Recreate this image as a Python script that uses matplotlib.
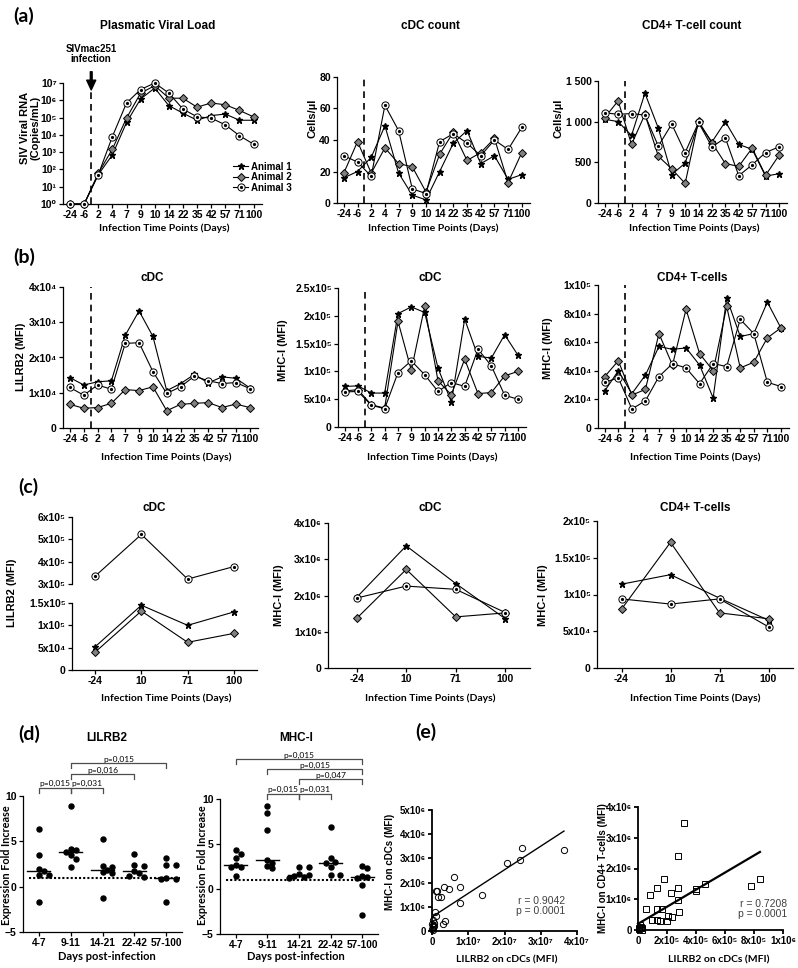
import numpy as np
import matplotlib
matplotlib.use('Agg')
import matplotlib.pyplot as plt
from matplotlib.ticker import NullLocator

plt.rcParams['font.family'] = ['Liberation Sans', 'DejaVu Sans']
plt.rcParams['font.weight'] = 'bold'
CAL = ['Lato', 'DejaVu Sans']  # closest thing to Calibri

W, H = 798, 968

# ---------------- data ----------------
days = ['-24', '-6', '2', '4', '7', '9', '10', '14', '22', '35', '42', '57', '71', '100']
animals = ['Animal 1', 'Animal 2', 'Animal 3']

# (a) plasma viral load (copies/mL)
vl_1 = [1, 1, 50, 700, 5.2e4, 1.2e6, 5.1e6, 4.9e5, 1.8e5, 7e4, 1.3e5, 1.6e5, 7e4, 7e4]
vl_2 = [1, 1, 60, 1.5e3, 9.3e4, 2.6e6, 7e6, 1.35e6, 1.3e6, 4e5, 7e5, 5.5e5, 2.6e5, 1.1e5]
vl_3 = [1, 1, 50, 8e3, 7e5, 4.2e6, 1e7, 2.6e6, 3.1e5, 1.1e5, 9.3e4, 3.8e4, 9e3, 2.9e3]
# (a) cDC count (cells/ul)
cdc_1 = [16, 20, 29, 49, 19, 5, 2, 20, 38, 46, 25, 30, 15, 18]
cdc_2 = [19, 39, 19, 35, 25, 23, 7, 31, 45, 27, 32, 41, 13, 32]
cdc_3 = [30, 26, 17, 62, 46, 9, 6, 39, 44, 38, 30, 40, 34, 48]
# (a) CD4+ T-cell count (cells/ul)
cd4_1 = [1030, 1000, 830, 1350, 920, 350, 490, 985, 750, 1000, 720, 660, 330, 360]
cd4_2 = [1050, 1255, 720, 1090, 575, 420, 240, 1005, 740, 485, 450, 675, 340, 585]
cd4_3 = [1110, 1090, 1100, 1080, 700, 970, 620, 990, 690, 800, 335, 470, 620, 690]
# (b) LILRB2 on cDC (MFI)
lil_1 = [1.43e4, 1.22e4, 1.31e4, 1.34e4, 2.63e4, 3.32e4, 2.6e4, 1.06e4, 1.26e4, 1.52e4, 1.28e4, 1.45e4, 1.41e4, 1.14e4]
lil_2 = [6.7e3, 5.6e3, 5.8e3, 7.0e3, 1.09e4, 1.06e4, 1.17e4, 4.9e3, 6.7e3, 7.0e3, 7.2e3, 5.8e3, 6.8e3, 5.8e3]
lil_3 = [1.15e4, 9.3e3, 1.22e4, 1.1e4, 2.4e4, 2.42e4, 1.6e4, 9.8e3, 1.17e4, 1.47e4, 1.34e4, 1.26e4, 1.29e4, 1.12e4]
# (b) MHC-I on cDC (MFI)
mhc_1 = [7.3e4, 7.4e4, 6.1e4, 6.1e4, 2.04e5, 2.16e5, 2.06e5, 1.06e5, 4.5e4, 1.94e5, 1.27e5, 1.24e5, 1.66e5, 1.29e5]
mhc_2 = [6.5e4, 6.7e4, 4.0e4, 3.4e4, 1.9e5, 1.02e5, 2.17e5, 8.3e4, 5.8e4, 1.22e5, 6.0e4, 6.2e4, 9.2e4, 1.0e5]
mhc_3 = [6.3e4, 6.4e4, 3.9e4, 3.3e4, 9.8e4, 1.19e5, 9.4e4, 6.4e4, 8.0e4, 7.3e4, 1.4e5, 1.1e5, 5.7e4, 5.0e4]
# (b) MHC-I on CD4+ T-cells (MFI)
mht_1 = [2.6e4, 4.0e4, 2.4e4, 3.7e4, 5.7e4, 5.5e4, 5.6e4, 4.4e4, 2.1e4, 9.1e4, 6.4e4, 6.6e4, 8.8e4, 7.0e4]
mht_2 = [3.6e4, 4.7e4, 2.3e4, 2.7e4, 6.6e4, 4.4e4, 8.3e4, 5.2e4, 4.0e4, 8.5e4, 4.2e4, 4.6e4, 6.3e4, 7.0e4]
mht_3 = [3.2e4, 3.5e4, 1.33e4, 1.9e4, 3.6e4, 4.5e4, 4.2e4, 3.1e4, 4.5e4, 4.3e4, 7.6e4, 6.6e4, 3.2e4, 2.9e4]

# (c) sorted cells
c_days = ['-24', '10', '71', '100']
c_lil_1 = [5.2e4, 1.45e5, 1.0e5, 1.3e5]
c_lil_2 = [4.0e4, 1.32e5, 6.2e4, 8.2e4]
c_lil_3 = [3.35e5, 5.22e5, 3.22e5, 3.78e5]
c_mhc_1 = [1.95e6, 3.37e6, 2.33e6, 1.36e6]
c_mhc_2 = [1.37e6, 2.72e6, 1.41e6, 1.52e6]
c_mhc_3 = [1.93e6, 2.26e6, 2.17e6, 1.53e6]
c_mht_1 = [1.14e5, 1.27e5, 0.95e5, 0.65e5]
c_mht_2 = [0.80e5, 1.71e5, 0.75e5, 0.67e5]
c_mht_3 = [0.94e5, 0.87e5, 0.94e5, 0.56e5]

# (d) fold increase
groups = ['4-7', '9-11', '14-21', '22-42', '57-100']
fold_lil = [[6.4, 3.5, 2.0, 1.7, 1.3, 1.3, -1.7],
            [8.9, 4.2, 4.0, 3.8, 3.5, 3.0, 2.2],
            [5.3, 2.3, 2.2, 1.8, 1.6, 1.5, -1.2],
            [3.6, 2.4, 2.3, 1.7, 1.5, 1.2, 1.1],
            [3.2, 2.4, 2.4, 1.0, 0.9, 0.8, -1.7]]
fold_mhc = [[4.3, 3.9, 3.5, 2.7, 2.4, 2.4, 1.4],
            [9.2, 8.4, 6.6, 3.2, 2.9, 2.6, 2.3],
            [2.5, 2.5, 1.7, 1.6, 1.5, 1.3, 1.2],
            [6.9, 3.5, 3.0, 2.9, 2.5, 1.6, 1.6],
            [2.6, 2.3, 1.5, 1.3, 1.2, 0.5, -2.9]]
tests_lil = [(0, 1, 10.9, 'p=0,015'), (1, 2, 10.9, 'p=0,031'),
             (1, 3, 12.4, 'p=0,016'), (1, 4, 13.6, 'p=0,015')]
tests_mhc = [(0, 4, 14.4, 'p=0,015'), (1, 4, 13.3, 'p=0,015'), (2, 4, 12.2, 'p=0,047'),
             (1, 2, 10.6, 'p=0,015'), (2, 3, 10.6, 'p=0,031')]

# (e) correlations
e1_x = [3.64e7, 2.47e7, 2.42e7, 2.06e7, 1.38e7, 7.6e6, 7.8e6, 6.1e6, 4.8e6, 3.2e6, 2.5e6, 1.7e6, 1.5e6,
        1.1e6, 3.7e6, 3.0e6, 8e5, 1.0e6, 5e5, 3e5, 2e5, 1e5, 4e5, 6e5, 2e5, 1e5]
e1_y = [3.35e6, 3.43e6, 2.93e6, 2.81e6, 1.49e6, 1.82e6, 1.16e6, 2.23e6, 1.74e6, 1.82e6, 1.40e6, 1.40e6, 1.65e6,
        1.67e6, 4.1e5, 2.8e5, 7.7e5, 6.2e5, 3.5e5, 2.5e5, 1.5e5, 8e4, 4.5e5, 2e5, 5e4, 3e5]
e1_fit = (0.0975, 5.8e5, 3.64e7)  # slope, intercept, x end
e1_stats = 'r = 0.9042\np = 0.0001'
e2_x = [3.17e5, 2.76e5, 1.79e5, 1.31e5, 2.76e5, 8.3e4, 2.28e5, 4.0e5, 4.0e5, 4.62e5, 7.8e5, 8.41e5, 2.76e5,
        5.5e4, 1.31e5, 1.65e5, 2.83e5, 2.07e5, 2.35e5, 9.7e4, 1.31e5, 1.5e5, 2.0e5, 1e4, 2e4, 3e4, 1.5e4, 5e3, 2.5e4]
e2_y = [3.49e6, 2.41e6, 1.66e6, 1.37e6, 1.37e6, 1.14e6, 1.21e6, 1.33e6, 1.26e6, 1.5e6, 1.44e6, 1.66e6, 9.6e5,
        6.9e5, 6.9e5, 6.9e5, 5.7e5, 4.5e5, 4.3e5, 3.1e5, 3.3e5, 2.9e5, 3.0e5, 5e4, 1e5, 8e4, 1.5e5, 2e4, 0]
e2_fit = (2.78, 2.0e5, 8.41e5)
e2_stats = 'r = 0.7208\np = 0.0001'

# ---------------- helpers ----------------
SUP = str.maketrans('0123456789-', '⁰¹²³⁴⁵⁶⁷⁸⁹⁻')


def sci(v):
    if v == 0:
        return '0'
    e = int(np.floor(np.log10(abs(v)) + 1e-9))
    return f'{v / 10 ** e:g}x10' + str(e).translate(SUP)


fig = plt.figure(figsize=(W / 100, H / 100), dpi=100)


def box(l, t, r, b):
    return fig.add_axes([l / W, 1 - b / H, (r - l) / W, (b - t) / H])


def ftext(x, y, s, **kw):
    kw.setdefault('ha', 'center')
    kw.setdefault('va', 'center')
    fig.text(x / W, 1 - y / H, s, **kw)


def style(ax, xs=7.5, ys=7.5, lw=0.9):
    ax.spines[['top', 'right']].set_visible(False)
    ax.spines[['left', 'bottom']].set_linewidth(lw)
    ax.tick_params(length=3, width=lw, pad=1.5)
    ax.tick_params(axis='x', labelsize=xs)
    ax.tick_params(axis='y', labelsize=ys)
    ax.patch.set_alpha(0)


def yticks(ax, ticks, fmt=sci):
    ax.set_yticks(ticks)
    ax.set_yticklabels([fmt(t) for t in ticks])


def animal_lines(ax, series):
    x = np.arange(len(series[0]))
    kw = dict(color='k', lw=0.8, clip_on=False, zorder=3)
    h1, = ax.plot(x, series[0], marker='*', ms=5, **kw)
    h2, = ax.plot(x, series[1], marker='D', ms=3.6, mfc='0.5', mec='k', mew=0.7, **kw)
    h3, = ax.plot(x, series[2], marker='o', ms=5.2, mfc='white', mec='k', mew=0.7, **kw)
    h3b, = ax.plot(x, series[2], ls='none', marker='o', ms=1.3, color='k', clip_on=False, zorder=4)
    return [h1, h2, (h3, h3b)]


def time_axes(ax, ymax=1.0):
    style(ax)
    ax.set_xticks(range(len(days)))
    ax.set_xticklabels(days)
    ax.set_xlim(-0.5, 13.6)
    ax.tick_params(axis='x', pad=1)
    ax.axvline(1.5, ymax=ymax, color='k', ls=(0, (4, 3)), lw=1.2, zorder=1)


def panel_axes(ax, lims=(-0.5, 3.5)):
    style(ax)
    ax.set_xticks(range(4))
    ax.set_xticklabels(c_days)
    ax.set_xlim(*lims)


# ---------------- (a) ----------------
ftext(24, 16, '(a)', family=CAL, fontsize=14)
xl = 'Infection Time Points (Days)'

a1 = box(63, 83, 262, 204)
time_axes(a1, ymax=0.94)
a1.set_yscale('log')
a1.set_ylim(1, 1e7)
a1.set_yticks([10 ** k for k in range(8)])
a1.set_yticklabels(['10' + str(k).translate(SUP) for k in range(8)])
a1.yaxis.set_minor_locator(NullLocator())
hs = animal_lines(a1, [vl_1, vl_2, vl_3])
a1.legend(hs, animals, loc='upper left', bbox_to_anchor=(228 / W, 1 - 157 / H),
          bbox_transform=fig.transFigure, frameon=False, fontsize=7, handlelength=1.6,
          handletextpad=0.3, labelspacing=0.05, borderpad=0)
a1.annotate('', xy=(1.5, 10 ** 6.6), xytext=(1.5, 10 ** 7.65), annotation_clip=False,
            arrowprops=dict(facecolor='k', edgecolor='k', width=1.3, headwidth=6.5, headlength=7, shrink=0))
ftext(91, 54, 'SIVmac251\ninfection', fontsize=7, linespacing=1.05)
ftext(158, 26, 'Plasmatic Viral Load', fontsize=8.5)
ftext(30, 128, 'SIV Viral RNA\n(Copies/mL)', fontsize=8, rotation=90, linespacing=1.1)
ftext(164, 228, xl, family=CAL, fontsize=7.5)

a2 = box(337, 77, 530, 203)
time_axes(a2)
a2.set_ylim(0, 80)
yticks(a2, [0, 20, 40, 60, 80], lambda v: f'{v:g}')
animal_lines(a2, [cdc_1, cdc_2, cdc_3])
ftext(430, 26, 'cDC count', fontsize=8.5)
ftext(312, 118, 'Cells/µl', fontsize=8, rotation=90)
ftext(433, 228, xl, family=CAL, fontsize=7.5)

a3 = box(598, 81, 787, 203)
time_axes(a3)
a3.set_ylim(0, 1500)
yticks(a3, [0, 500, 1000, 1500], lambda v: f'{v:,.0f}'.replace(',', ' '))
animal_lines(a3, [cd4_1, cd4_2, cd4_3])
ftext(692, 26, 'CD4+ T-cell count', fontsize=8.5)
ftext(559, 118, 'Cells/µl', fontsize=8, rotation=90)
ftext(694, 228, xl, family=CAL, fontsize=7.5)

# ---------------- (b) ----------------
ftext(24, 257, '(b)', family=CAL, fontsize=14)

b1 = box(63, 287, 258, 428)
time_axes(b1)
b1.set_ylim(0, 4e4)
yticks(b1, [0, 1e4, 2e4, 3e4, 4e4])
animal_lines(b1, [lil_1, lil_2, lil_3])
ftext(152, 278, 'cDC', fontsize=8.5)
ftext(21, 357, 'LILRB2 (MFI)', fontsize=8, rotation=90)
ftext(166, 457, xl, family=CAL, fontsize=7.5)

b2 = box(338, 288, 526, 427)
time_axes(b2)
b2.set_ylim(0, 2.5e5)
yticks(b2, [0, 5e4, 1e5, 1.5e5, 2e5, 2.5e5])
animal_lines(b2, [mhc_1, mhc_2, mhc_3])
ftext(430, 278, 'cDC', fontsize=8.5)
ftext(283, 350, 'MHC-I (MFI)', fontsize=8, rotation=90)
ftext(432, 457, xl, family=CAL, fontsize=7.5)

b3 = box(598, 285, 789, 428)
time_axes(b3)
b3.set_ylim(0, 1e5)
yticks(b3, [0, 2e4, 4e4, 6e4, 8e4, 1e5])
animal_lines(b3, [mht_1, mht_2, mht_3])
ftext(692, 278, 'CD4+ T-cells', fontsize=8.5)
ftext(548, 348, 'MHC-I (MFI)', fontsize=8, rotation=90)
ftext(695, 457, xl, family=CAL, fontsize=7.5)

# ---------------- (c) ----------------
ftext(28, 487, '(c)', family=CAL, fontsize=14)

c1u = box(72, 517, 257, 584)
panel_axes(c1u)
c1u.spines['bottom'].set_visible(False)
c1u.tick_params(axis='x', bottom=False, labelbottom=False)
c1u.set_ylim(3e5, 6e5)
yticks(c1u, [3e5, 4e5, 5e5, 6e5])
c1l = box(72, 603, 257, 670)
panel_axes(c1l)
c1l.set_ylim(0, 1.5e5)
yticks(c1l, [0, 5e4, 1e5, 1.5e5])
x4 = np.arange(4)
kw = dict(color='k', lw=0.8, clip_on=False, zorder=3)
c1l.plot(x4, c_lil_1, marker='*', ms=5, **kw)
c1l.plot(x4, c_lil_2, marker='D', ms=3.6, mfc='0.5', mec='k', mew=0.7, **kw)
c1u.plot(x4, c_lil_3, marker='o', ms=5.2, mfc='white', mec='k', mew=0.7, **kw)
c1u.plot(x4, c_lil_3, ls='none', marker='o', ms=1.3, color='k', zorder=4)
ftext(154, 508, 'cDC', fontsize=8.5)
ftext(12, 593, 'LILRB2 (MFI)', fontsize=8, rotation=90)
ftext(166, 698, xl, family=CAL, fontsize=7.5)

c2 = box(328, 523, 530, 668)
panel_axes(c2, (-0.58, 3.5))
c2.set_ylim(0, 4e6)
yticks(c2, [0, 1e6, 2e6, 3e6, 4e6])
animal_lines(c2, [c_mhc_1, c_mhc_2, c_mhc_3])
ftext(430, 508, 'cDC', fontsize=8.5)
ftext(279, 595, 'MHC-I (MFI)', fontsize=8, rotation=90)
ftext(430, 698, xl, family=CAL, fontsize=7.5)

c3 = box(597, 521, 793, 668)
panel_axes(c3)
c3.set_ylim(0, 2e5)
yticks(c3, [0, 5e4, 1e5, 1.5e5, 2e5])
animal_lines(c3, [c_mht_1, c_mht_2, c_mht_3])
ftext(695, 508, 'CD4+ T-cells', fontsize=8.5)
ftext(543, 595, 'MHC-I (MFI)', fontsize=8, rotation=90)
ftext(695, 698, xl, family=CAL, fontsize=7.5)

# ---------------- (d) ----------------
ftext(29, 734, '(d)', family=CAL, fontsize=14)


def swarm(vals, xscale, yscale, d=5.2):
    vals = np.asarray(vals, float)
    offs = np.zeros(len(vals))
    placed = []
    step = d / xscale * 0.95
    for i in np.argsort(-vals):
        for k in (0, 1, -1, 2, -2, 3, -3):
            o = k * step
            if all(((o - po) * xscale) ** 2 + ((vals[i] - pv) * yscale) ** 2 >= d * d for po, pv in placed):
                break
        offs[i] = o
        placed.append((o, vals[i]))
    return offs


def fold_panel(ax, data, tests, title, tx, ylx):
    style(ax, xs=7.3, ys=7.5)
    ax.set_xlim(-0.5, 4.5)
    ax.set_ylim(-5, 10)
    ax.set_yticks([-5, 0, 5, 10])
    ax.set_xticks(range(5))
    ax.set_xticklabels(groups)
    ax.axhline(1, xmin=0.04, xmax=0.99, color='k', ls=(0, (1, 1)), lw=1.5, zorder=1)
    for i, vals in enumerate(data):
        xs = i + swarm(vals, 32, 9)
        ax.plot(xs, vals, 'o', ms=3.6, color='k', clip_on=False, zorder=3)
        m = np.median(vals)
        ax.plot([i - 0.36, i + 0.36], [m, m], color='k', lw=1, zorder=2)
    for i, j, y, s in tests:
        ax.plot([i, i, j, j], [y - 0.55, y, y, y - 0.55], color='0.3', lw=0.9, clip_on=False)
        ax.text((i + j) / 2, y + 0.05, s, ha='center', va='bottom', fontsize=6,
                family=CAL, fontweight='normal', clip_on=False)
    ftext(tx, 738, title, fontsize=8.5)
    ftext(ylx, 865, 'Expression Fold Increase', family=CAL, fontsize=7.8, rotation=90)
    ftext(tx, 957, 'Days post-infection', family=CAL, fontsize=8)


d1 = box(23, 796, 182, 932)
fold_panel(d1, fold_lil, tests_lil, 'LILRB2', 107, 7)
d2 = box(220, 799, 378, 934)
fold_panel(d2, fold_mhc, tests_mhc, 'MHC-I', 296, 202)

# ---------------- (e) ----------------
ftext(426, 732, '(e)', family=CAL, fontsize=14)


def corr_panel(ax, x, y, fit, stats, marker, ms, xt, yt, sx, sy):
    style(ax, xs=7, ys=7, lw=1.3)
    ax.set_xlim(xt[0], xt[-1])
    ax.set_ylim(yt[0], yt[-1])
    ax.set_xticks(xt)
    ax.set_xticklabels([sci(v) for v in xt])
    yticks(ax, yt)
    ax.plot(x, y, ls='none', marker=marker, ms=ms, mfc='none', mec='k', mew=0.7, clip_on=False)
    slope, icpt, xend = fit
    xx = np.array([0, xend])
    ax.plot(xx, icpt + slope * xx, color='k', lw=1.0 if marker == 'o' else 1.6, clip_on=False)
    ftext(sx, sy, stats, ha='right', fontsize=7.5, fontweight='normal', color='0.25', linespacing=1.05)


e1 = box(432, 810, 577, 931)
corr_panel(e1, e1_x, e1_y, e1_fit, e1_stats, 'o', 4.5,
           [0, 1e7, 2e7, 3e7, 4e7], [0, 1e6, 2e6, 3e6, 4e6, 5e6], 565, 906)
ftext(390, 862, 'MHC-I on cDCs (MFI)', fontsize=7, rotation=90)
ftext(507, 960, 'LILRB2 on cDCs (MFI)', family=CAL, fontsize=7.5)

e2 = box(638, 807, 783, 930)
corr_panel(e2, e2_x, e2_y, e2_fit, e2_stats, 's', 4.8,
           [0, 2e5, 4e5, 6e5, 8e5, 1e6], [0, 1e6, 2e6, 3e6, 4e6], 787, 909)
ftext(603, 868, 'MHC-I on CD4+ T-cells (MFI)', fontsize=7, rotation=90)
ftext(719, 960, 'LILRB2 on cDCs (MFI)', family=CAL, fontsize=7.5)

fig.savefig('out.png', dpi=100)
